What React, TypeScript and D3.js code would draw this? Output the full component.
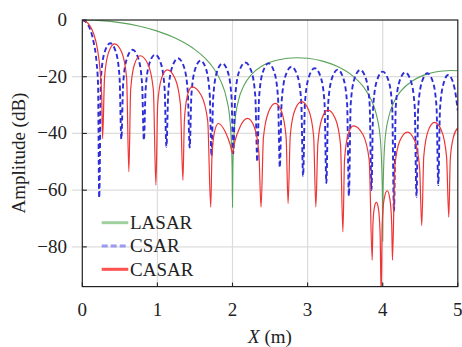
import React from "react";
import * as d3 from "d3";

type Pt = [number, number];

const X_TICKS = [0, 1, 2, 3, 4, 5];
const Y_TICKS = [0, -20, -40, -60, -80];
const SERIES_NAMES = ["LASAR", "CSAR", "CASAR"];

const LASAR: Pt[] = [
  [0, 0], [0.25, -0.22], [0.5, -0.91], [0.75, -2.11], [1, -3.92], [1.25, -6.55], [1.5, -10.45],
  [1.65, -13.9], [1.75, -17.1], [1.85, -21.9], [1.92, -27.6], [1.97, -36.4], [1.995, -52], [2, -66],
  [2.005, -52], [2.03, -36.6], [2.08, -28.3], [2.15, -23.2], [2.25, -19.3], [2.4, -16.1], [2.6, -14.1],
  [2.86, -13.3], [3, -13.5], [3.2, -14.5], [3.4, -16.4], [3.6, -19.7], [3.75, -23.8], [3.85, -28.3],
  [3.92, -33.8], [3.97, -42.4], [3.995, -60], [4, -78], [4.005, -60], [4.03, -42.6], [4.08, -34.2],
  [4.15, -28.9], [4.25, -24.8], [4.4, -21.4], [4.6, -19], [4.8, -18], [4.9, -17.8], [5, -17.9],
];

const CSAR: Pt[] = [
  [0, 0], [0.05, -0.7], [0.1, -3], [0.15, -7.7], [0.19, -15], [0.21, -23], [0.225, -62.7],
  [0.249, -20.2], [0.299, -11.2], [0.373, -8.2], [0.446, -11.2], [0.496, -20.2], [0.52, -42],
  [0.544, -22.5], [0.595, -13.5], [0.67, -10.5], [0.745, -13.5], [0.796, -22.5], [0.82, -42.4],
  [0.844, -24.2], [0.895, -15.2], [0.97, -12.2], [1.045, -15.2], [1.096, -24.2], [1.12, -44.7],
  [1.145, -25.5], [1.198, -16.5], [1.275, -13.5], [1.353, -16.5], [1.405, -25.5], [1.43, -45],
  [1.453, -26.3], [1.503, -17.3], [1.575, -14.3], [1.648, -17.3], [1.697, -26.3], [1.72, -48],
  [1.743, -27.3], [1.793, -18.3], [1.865, -15.3], [1.938, -18.3], [1.987, -27.3], [2.01, -47],
  [2.036, -27], [2.09, -18], [2.17, -15], [2.25, -18], [2.304, -27], [2.33, -50],
  [2.354, -27.3], [2.405, -18.3], [2.48, -15.3], [2.555, -18.3], [2.606, -27.3], [2.63, -52],
  [2.655, -28.5], [2.708, -19.5], [2.785, -16.5], [2.863, -19.5], [2.915, -28.5], [2.94, -55],
  [2.965, -29], [3.018, -20], [3.095, -17], [3.173, -20], [3.225, -29], [3.25, -57.5],
  [3.274, -29.5], [3.325, -20.5], [3.4, -17.5], [3.475, -20.5], [3.526, -29.5], [3.55, -62],
  [3.574, -29.6], [3.625, -20.6], [3.7, -17.6], [3.775, -20.6], [3.826, -29.6], [3.85, -60],
  [3.874, -30.2], [3.925, -21.2], [4, -18.2], [4.075, -21.2], [4.126, -30.2], [4.15, -67.6],
  [4.174, -30.5], [4.225, -21.5], [4.3, -18.5], [4.375, -21.5], [4.426, -30.5], [4.45, -62.3],
  [4.473, -30.8], [4.523, -21.8], [4.595, -18.8], [4.668, -21.8], [4.717, -30.8], [4.74, -58.2],
  [4.763, -31.4], [4.81, -22.4], [4.87, -19.4], [4.93, -21.5], [4.97, -26], [5, -32],
];

const CASAR: Pt[] = [
  [0, 0], [0.05, -0.5], [0.1, -2], [0.15, -4.8], [0.2, -10], [0.24, -18.7], [0.26, -28], [0.27, -41.8],
  [0.296, -20.4], [0.35, -11.4], [0.43, -8.4], [0.525, -11.4], [0.59, -20.4], [0.62, -53.5],
  [0.644, -24.6], [0.695, -15.6], [0.77, -12.6], [0.875, -15.6], [0.946, -24.6], [0.98, -58.2],
  [1.004, -29.6], [1.055, -20.6], [1.13, -17.6], [1.235, -20.6], [1.306, -29.6], [1.34, -56.5],
  [1.359, -35.6], [1.4, -26.6], [1.46, -23.6], [1.585, -26.6], [1.67, -35.6], [1.71, -66],
  [1.726, -48.5], [1.76, -39.5], [1.81, -36.5], [1.905, -39.5], [1.97, -44], [2, -47],
  [2.03, -43], [2.1, -37.7], [2.2, -34.7], [2.29, -37.7], [2.351, -46.7], [2.38, -66],
  [2.412, -41.4], [2.48, -32.4], [2.57, -29.4], [2.655, -32.4], [2.714, -41.4], [2.74, -64.7],
  [2.769, -40.8], [2.83, -31.8], [2.92, -28.8], [3.015, -31.8], [3.08, -40.8], [3.11, -65.9],
  [3.136, -43.8], [3.19, -34.8], [3.27, -31.8], [3.37, -34.8], [3.438, -43.8], [3.47, -74.7],
  [3.492, -49.3], [3.54, -40.3], [3.61, -37.3], [3.735, -40.3], [3.82, -49.3], [3.86, -84.7],
  [3.87, -72], [3.89, -66], [3.915, -64.3], [3.94, -66], [3.965, -75], [3.98, -97],
  [3.993, -72], [4.02, -63], [4.06, -60.2], [4.095, -63], [4.12, -72], [4.13, -84.7],
  [4.162, -51.5], [4.23, -42.5], [4.33, -39.5], [4.425, -42.5], [4.49, -51.5], [4.52, -72.5],
  [4.547, -48.1], [4.605, -39.1], [4.69, -36.1], [4.785, -39.1], [4.85, -48.1], [4.88, -69.5],
  [4.9, -49], [4.94, -41.5], [5, -38],
];

const W = 462;
const H = 347;
const L = 82.3;
const R = 457.8;
const T = 20;
const B = 286.6;
const FONT = "Liberation Serif";
const FS = 19;

export default function App() {
  const x = d3.scaleLinear().domain([0, 5]).range([L, R]);
  const y = d3.scaleLinear().domain([-94, 0]).range([B, T]);
  const line = d3
    .line<Pt>()
    .x((d) => x(d[0]))
    .y((d) => y(d[1]))
    .curve(d3.curveMonotoneX);

  const series = [
    { name: SERIES_NAMES[0], data: LASAR, color: "#5aa35a", width: 1.1, dash: undefined as string | undefined, legendColor: "#9fd09f", legendDash: undefined as string | undefined },
    { name: SERIES_NAMES[1], data: CSAR, color: "#2e2ed8", width: 1.9, dash: "5,3", legendColor: "#9a9af0", legendDash: "6,3" },
    { name: SERIES_NAMES[2], data: CASAR, color: "#ee3535", width: 1.2, dash: undefined, legendColor: "#ff5050", legendDash: undefined },
  ];

  return (
    <div style={{ width: "446px", height: "331px" }}>
      <svg
        width={W}
        height={H}
        fontFamily={FONT}
        fontSize={FS}
        style={{ position: "absolute", left: 0, top: 0, display: "block" }}
      >
        <defs>
          <clipPath id="plotclip">
            <rect x={L} y={T} width={R - L} height={B - T} />
          </clipPath>
        </defs>
        <rect x={0} y={0} width={W} height={H} fill="#fff" />
        {Y_TICKS.filter((v) => v !== 0).map((v) => (
          <line key={"gy" + v} x1={72} x2={R} y1={y(v)} y2={y(v)} stroke="#dcdcdc" strokeWidth={1.2} />
        ))}
        {X_TICKS.filter((v) => v !== 0 && v !== 5).map((v) => (
          <line key={"gx" + v} x1={x(v)} x2={x(v)} y1={T} y2={B} stroke="#dcdcdc" strokeWidth={1.2} />
        ))}
        <g clipPath="url(#plotclip)">
          {series.map((s) => (
            <path
              key={s.name}
              d={line(s.data) || ""}
              fill="none"
              stroke={s.color}
              strokeWidth={s.width}
              strokeDasharray={s.dash}
              strokeLinejoin="round"
            />
          ))}
        </g>
        <rect x={L} y={T} width={R - L} height={B - T} fill="none" stroke="#222" strokeWidth={1.2} />
        {X_TICKS.map((v) => (
          <line key={"tx" + v} x1={x(v)} x2={x(v)} y1={B} y2={B - 4} stroke="#222" strokeWidth={1.1} />
        ))}
        {Y_TICKS.map((v) => (
          <line key={"ty" + v} x1={L} x2={L + 4.5} y1={y(v)} y2={y(v)} stroke="#222" strokeWidth={1.1} />
        ))}
        {X_TICKS.map((v) => (
          <text key={"lx" + v} x={x(v)} y={316} textAnchor="middle" fontFamily={FONT} fontSize={FS} fill="#222">
            {String(v)}
          </text>
        ))}
        {Y_TICKS.map((v) => (
          <text key={"ly" + v} x={67} y={y(v) + 6} textAnchor="end" fontFamily={FONT} fontSize={FS} fill="#222">
            {v < 0 ? "\u2212" + String(-v) : String(v)}
          </text>
        ))}
        <text x={270} y={343} textAnchor="middle" fontFamily={FONT} fontSize={FS} fill="#222">
          <tspan fontStyle="italic">X</tspan> (m)
        </text>
        <text
          transform={`translate(24.5,153) rotate(-90)`}
          textAnchor="middle"
          fontFamily={FONT}
          fontSize={FS}
          fill="#222"
        >
          Amplitude (dB)
        </text>
        {series.map((s, i) => {
          const ly = 222.7 + i * 23.3;
          return (
            <g key={"lg" + s.name}>
              <line x1={101.7} x2={128.3} y1={ly} y2={ly} stroke={s.legendColor} strokeWidth={3} strokeDasharray={s.legendDash} />
              <text x={130} y={ly + 6.3} fontFamily={FONT} fontSize={FS} fill="#222">
                {s.name}
              </text>
            </g>
          );
        })}
      </svg>
    </div>
  );
}
